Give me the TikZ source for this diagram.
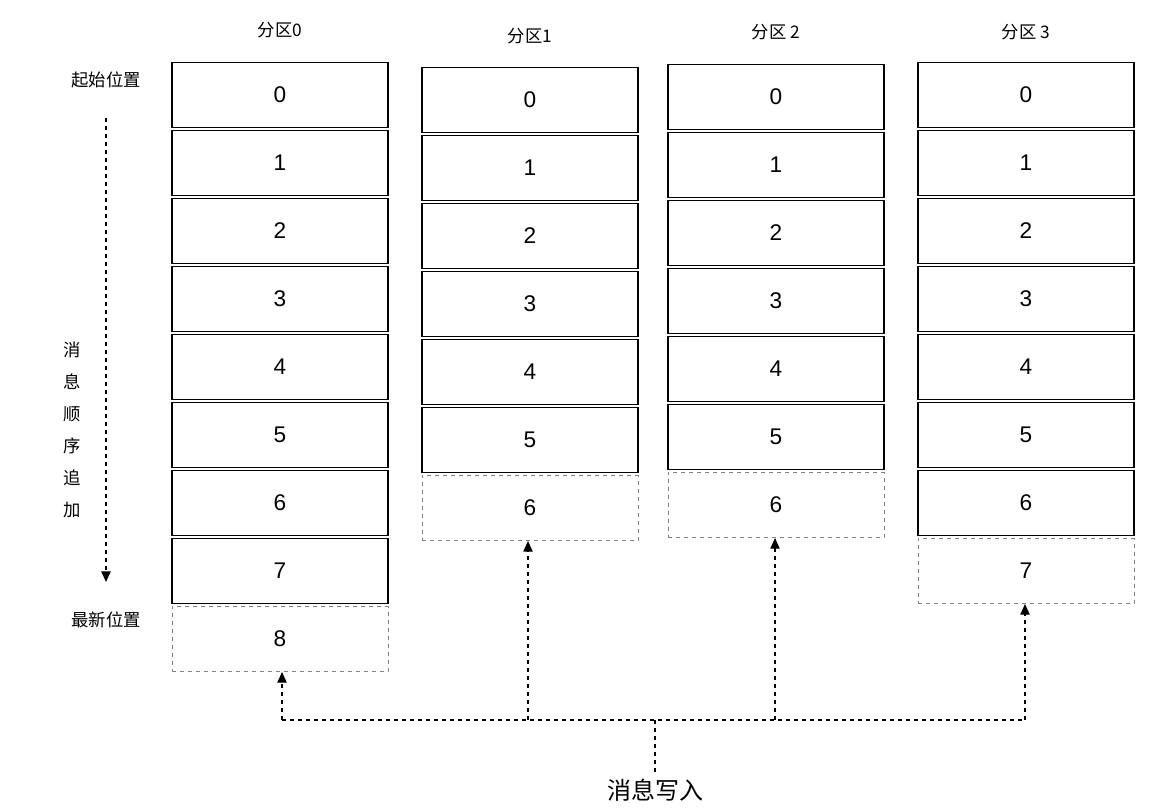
\documentclass[tikz,border=0pt]{standalone}
\usepackage{fontspec}
\setmainfont{Liberation Sans}
\newfontfamily\cjk{Noto Sans CJK SC}
\usetikzlibrary{arrows.meta}
\begin{document}
\begin{tikzpicture}[x=0.75pt,y=-0.75pt,
  cell/.style={draw=black,line width=1pt,minimum width=162pt,minimum height=49pt,inner sep=0,font=\fontsize{17}{17}\selectfont},
  ecell/.style={cell,draw=gray,dashed,line width=0.5pt},
  hdr/.style={font=\cjk\fontsize{13}{13}\selectfont},
  lbl/.style={font=\cjk\fontsize{13}{13}\selectfont},
  flow/.style={dashed,line width=0.9pt,-{Triangle[length=8pt,width=7pt]}},
  fline/.style={dashed,line width=0.9pt}]
\useasboundingbox (0,0) rectangle (1164,812);
\foreach \c/\x/\t/\n in {0/280/62/8,1/530/67/6,2/776/64/6,3/1026/62/7}{
  \foreach \i in {0,...,\n}{
    \pgfmathsetmacro\yy{\t+33+68*\i}
    \ifnum\i<\n
      \node[cell] (c\c r\i) at (\x,\yy) {\i};
    \else
      \node[ecell] (c\c r\i) at (\x,\yy) {\i};
    \fi
  }
}
\node[hdr] (h0) at (280,30) {分区0};
\node[hdr] (h1) at (530,36) {分区1};
\node[hdr] (h2) at (776,32) {分区 2};
\node[hdr] (h3) at (1026,32) {分区 3};
\node[lbl] (start) at (106,80) {起始位置};
\node[lbl] (newest) at (106,620) {最新位置};
\coordinate (ast) at (106,118);
\coordinate (aen) at (106,582);
\draw[flow] (ast) -- (aen);
\node[lbl,align=center,inner sep=1pt,font=\cjk\fontsize{13}{24}\selectfont] (vt) at (72,430) {消\\息\\顺\\序\\追\\加};
\coordinate (b0) at (282,720);
\coordinate (b1) at (528,720);
\coordinate (b2) at (775,720);
\coordinate (b3) at (1025,720);
\coordinate (bm) at (655,720);
\node[font=\cjk\fontsize{18}{18}\selectfont] (write) at (655,790) {消息写入};
\draw[fline] (b0) -- (b3);
\draw[fline] (bm) -- (write.north);
\draw[flow] (b0) -- (c0r8.south -| b0);
\draw[flow] (b1) -- (c1r6.south -| b1);
\draw[flow] (b2) -- (c2r6.south -| b2);
\draw[flow] (b3) -- (c3r7.south -| b3);
\end{tikzpicture}
\end{document}
